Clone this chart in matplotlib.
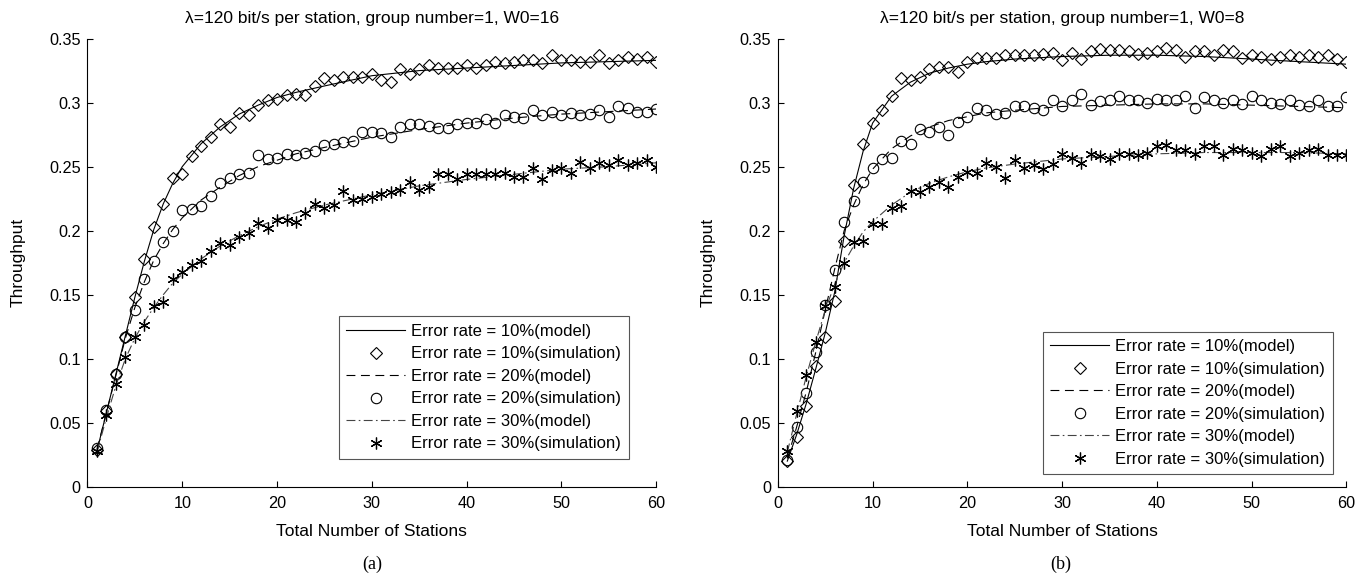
import matplotlib
matplotlib.use('Agg')
from matplotlib import pyplot as plt
from matplotlib.ticker import FormatStrFormatter

plt.rcParams['font.family'] = ['Liberation Sans', 'DejaVu Sans']

stations = list(range(1, 61))
model_x = [1, 2, 3, 4, 5, 6, 7, 8, 9, 10, 12, 14, 16, 18, 20, 22, 25, 30, 35, 40, 45, 50, 55, 60]

# (a) W0=16
a_sim10 = [0.029, 0.059, 0.088, 0.117, 0.148, 0.178, 0.203, 0.221, 0.241, 0.244,
           0.258, 0.266, 0.273, 0.283, 0.281, 0.292, 0.290, 0.298, 0.302, 0.303,
           0.306, 0.307, 0.306, 0.313, 0.319, 0.318, 0.320, 0.320, 0.320, 0.322,
           0.318, 0.316, 0.326, 0.322, 0.326, 0.329, 0.327, 0.327, 0.327, 0.329,
           0.327, 0.329, 0.332, 0.331, 0.332, 0.333, 0.333, 0.331, 0.337, 0.333,
           0.333, 0.332, 0.332, 0.337, 0.331, 0.333, 0.336, 0.334, 0.336, 0.332]
a_sim20 = [0.030, 0.060, 0.088, 0.117, 0.138, 0.162, 0.176, 0.191, 0.200, 0.216,
           0.217, 0.219, 0.227, 0.237, 0.241, 0.244, 0.245, 0.259, 0.256, 0.257,
           0.260, 0.259, 0.261, 0.262, 0.267, 0.268, 0.269, 0.270, 0.277, 0.277,
           0.276, 0.273, 0.281, 0.283, 0.283, 0.282, 0.280, 0.280, 0.283, 0.284,
           0.284, 0.287, 0.284, 0.290, 0.289, 0.288, 0.294, 0.290, 0.293, 0.290,
           0.292, 0.290, 0.291, 0.294, 0.289, 0.297, 0.296, 0.293, 0.293, 0.295]
a_sim30 = [0.028, 0.056, 0.080, 0.101, 0.117, 0.126, 0.141, 0.144, 0.162, 0.168,
           0.173, 0.176, 0.184, 0.190, 0.189, 0.195, 0.198, 0.206, 0.202, 0.208,
           0.208, 0.207, 0.214, 0.221, 0.218, 0.220, 0.231, 0.224, 0.225, 0.226,
           0.229, 0.230, 0.232, 0.238, 0.232, 0.234, 0.244, 0.244, 0.240, 0.244,
           0.244, 0.244, 0.244, 0.245, 0.242, 0.242, 0.249, 0.240, 0.247, 0.249,
           0.245, 0.254, 0.249, 0.253, 0.251, 0.255, 0.251, 0.253, 0.255, 0.250]
a_model10 = [0.028, 0.058, 0.088, 0.118, 0.148, 0.176, 0.201, 0.221, 0.237, 0.250, 0.268, 0.281,
             0.291, 0.298, 0.304, 0.308, 0.313, 0.321, 0.325, 0.327, 0.329, 0.331, 0.332, 0.333]
a_model20 = [0.029, 0.058, 0.087, 0.116, 0.140, 0.160, 0.177, 0.190, 0.201, 0.210, 0.224, 0.234,
             0.243, 0.250, 0.255, 0.260, 0.265, 0.273, 0.279, 0.284, 0.288, 0.291, 0.293, 0.295]
a_model30 = [0.027, 0.054, 0.079, 0.100, 0.116, 0.129, 0.140, 0.150, 0.159, 0.166, 0.178, 0.188,
             0.196, 0.203, 0.209, 0.214, 0.220, 0.228, 0.235, 0.240, 0.244, 0.248, 0.250, 0.253]

# (b) W0=8
b_sim10 = [0.020, 0.039, 0.063, 0.094, 0.117, 0.145, 0.192, 0.236, 0.268, 0.284,
           0.294, 0.305, 0.319, 0.318, 0.320, 0.326, 0.328, 0.328, 0.324, 0.332,
           0.335, 0.335, 0.335, 0.337, 0.337, 0.337, 0.337, 0.338, 0.339, 0.333,
           0.339, 0.334, 0.340, 0.342, 0.341, 0.341, 0.340, 0.338, 0.339, 0.340,
           0.343, 0.341, 0.336, 0.340, 0.340, 0.337, 0.341, 0.340, 0.335, 0.337,
           0.336, 0.334, 0.336, 0.337, 0.336, 0.337, 0.336, 0.337, 0.334, 0.332]
b_sim20 = [0.021, 0.047, 0.073, 0.105, 0.142, 0.169, 0.207, 0.223, 0.238, 0.249,
           0.256, 0.257, 0.270, 0.268, 0.279, 0.277, 0.281, 0.275, 0.285, 0.289,
           0.296, 0.294, 0.291, 0.292, 0.297, 0.297, 0.296, 0.294, 0.302, 0.297,
           0.302, 0.307, 0.298, 0.301, 0.302, 0.305, 0.302, 0.302, 0.300, 0.303,
           0.302, 0.302, 0.305, 0.296, 0.304, 0.302, 0.300, 0.302, 0.299, 0.305,
           0.302, 0.300, 0.299, 0.302, 0.298, 0.297, 0.302, 0.297, 0.297, 0.304]
b_sim30 = [0.028, 0.059, 0.087, 0.113, 0.141, 0.156, 0.175, 0.191, 0.192, 0.205,
           0.205, 0.218, 0.219, 0.231, 0.230, 0.234, 0.238, 0.234, 0.242, 0.246,
           0.245, 0.253, 0.250, 0.241, 0.255, 0.249, 0.251, 0.248, 0.252, 0.260,
           0.257, 0.253, 0.260, 0.258, 0.256, 0.260, 0.260, 0.259, 0.261, 0.266,
           0.267, 0.263, 0.263, 0.260, 0.266, 0.266, 0.259, 0.264, 0.263, 0.261,
           0.258, 0.264, 0.266, 0.258, 0.261, 0.263, 0.264, 0.259, 0.259, 0.259]
b_model10 = [0.020, 0.041, 0.065, 0.092, 0.120, 0.152, 0.196, 0.233, 0.262, 0.284, 0.305, 0.316,
             0.323, 0.327, 0.330, 0.332, 0.334, 0.336, 0.337, 0.337, 0.336, 0.334, 0.332, 0.330]
b_model20 = [0.022, 0.047, 0.074, 0.105, 0.138, 0.170, 0.200, 0.220, 0.236, 0.248, 0.264, 0.274,
             0.281, 0.286, 0.289, 0.292, 0.294, 0.297, 0.298, 0.299, 0.299, 0.298, 0.297, 0.296]
b_model30 = [0.027, 0.057, 0.086, 0.113, 0.138, 0.158, 0.175, 0.188, 0.199, 0.207, 0.220, 0.230,
             0.237, 0.242, 0.246, 0.249, 0.252, 0.256, 0.258, 0.260, 0.261, 0.261, 0.261, 0.260]

titles = ['λ=120 bit/s per station, group number=1, W0=16',
          'λ=120 bit/s per station, group number=1, W0=8']
labels = ['Error rate = 10%(model)', 'Error rate = 10%(simulation)',
          'Error rate = 20%(model)', 'Error rate = 20%(simulation)',
          'Error rate = 30%(model)', 'Error rate = 30%(simulation)']
yticks = [0, 0.05, 0.1, 0.15, 0.2, 0.25, 0.3, 0.35]

fig = plt.figure(figsize=(13.67, 5.82), dpi=100)
ax_a = fig.add_axes([0.064, 0.1637, 0.416, 0.770])
ax_b = fig.add_axes([0.569, 0.1637, 0.416, 0.770])

star = (6, 2, 0)
panels = [
    (ax_a, a_model10, a_sim10, a_model20, a_sim20, a_model30, a_sim30, (0.952, 0.062), '(a)', 0.272),
    (ax_b, b_model10, b_sim10, b_model20, b_sim20, b_model30, b_sim30, (0.976, 0.028), '(b)', 0.776),
]

for ax, m10, s10, m20, s20, m30, s30, anchor, tag, tag_x in panels:
    ax.plot(model_x, m10, color='k', linestyle='-', linewidth=0.8, label=labels[0])
    ax.plot(stations, s10, linestyle='none', marker='D', markersize=6.3,
            markerfacecolor='none', markeredgecolor='k', markeredgewidth=0.8, label=labels[1])
    ax.plot(model_x, m20, color='k', linestyle=(0, (8, 5)), linewidth=0.8, label=labels[2])
    ax.plot(stations, s20, linestyle='none', marker='o', markersize=7.5,
            markerfacecolor='none', markeredgecolor='k', markeredgewidth=0.8, label=labels[3])
    ax.plot(model_x, m30, color='#444444', linestyle=(0, (8, 3, 1.5, 3)), linewidth=0.8, label=labels[4])
    ax.plot(stations, s30, linestyle='none', marker=star, markersize=8.5,
            markerfacecolor='none', markeredgecolor='k', markeredgewidth=0.9, label=labels[5])

    ax.set_xlim(0, 60)
    ax.set_ylim(0, 0.35)
    ax.set_xticks(range(0, 61, 10))
    ax.set_yticks(yticks)
    ax.yaxis.set_major_formatter(FormatStrFormatter('%g'))
    ax.tick_params(direction='in', length=4, width=0.8, labelsize=11.7)
    ax.tick_params(axis='x', pad=7)
    ax.tick_params(axis='y', pad=5)
    ax.spines['top'].set_visible(False)
    ax.spines['right'].set_visible(False)
    ax.spines['left'].set_linewidth(0.8)
    ax.spines['bottom'].set_linewidth(0.8)

    ax.set_xlabel('Total Number of Stations', fontsize=12.5, labelpad=9)
    ax.set_ylabel('Throughput', fontsize=12.5, labelpad=17)

    leg = ax.legend(loc='lower right', bbox_to_anchor=anchor, borderaxespad=0,
                    fontsize=12, fancybox=False, edgecolor='#555555', framealpha=1,
                    handlelength=3.5, handletextpad=0.4, labelspacing=0.45, borderpad=0.45)
    leg.get_frame().set_linewidth(0.8)

    fig.text(tag_x, 0.022, tag, family=['Liberation Serif'], fontsize=13, ha='center')

ax_a.set_title(titles[0], fontsize=12.5, pad=11)
ax_b.set_title(titles[1], fontsize=12.5, pad=11)

plt.savefig('out.png', dpi=100)
